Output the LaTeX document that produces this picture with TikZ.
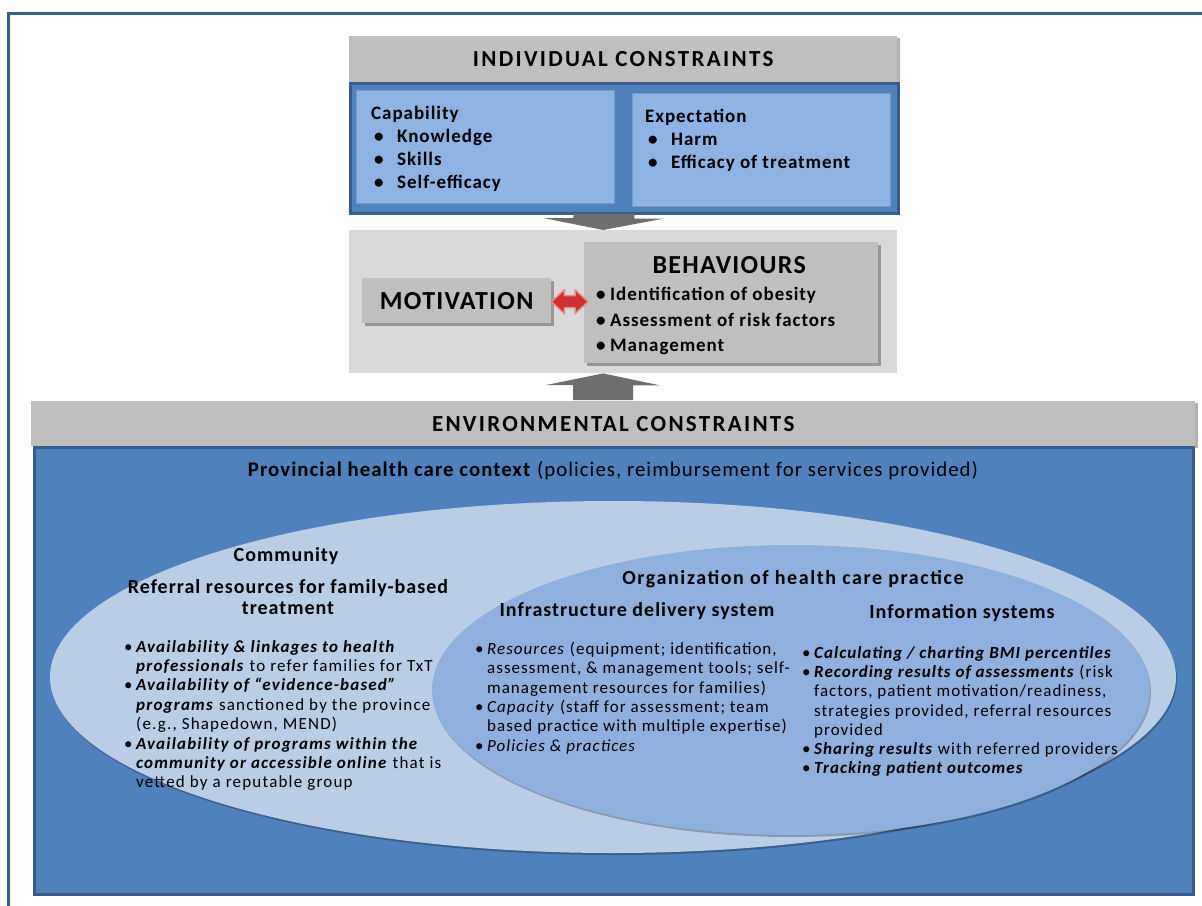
\documentclass[tikz,border=0pt]{standalone}
\usepackage{fontspec}
\setmainfont{Carlito}
% wider set copies of the same face
\newfontfamily\hdrfont[LetterSpace=10]{Carlito}
\newfontfamily\titlefont[LetterSpace=5]{Carlito}
\newfontfamily\listfont[LetterSpace=6]{Carlito}
\newfontfamily\widelist[LetterSpace=7]{Carlito}
\newfontfamily\orgfont[LetterSpace=8]{Carlito}
\usetikzlibrary{calc,shadows,shapes.geometric}

\definecolor{hdrgray}{HTML}{BFBFBF}
\definecolor{panelgray}{HTML}{D9D9D9}
\definecolor{arrowgray}{HTML}{6E6E6E}
\definecolor{boxblue}{HTML}{4F81BD}
\definecolor{edgeblue}{HTML}{385D8A}
\definecolor{lightblue}{HTML}{8DB3E2}
\definecolor{paleblue}{HTML}{B9CDE5}
\definecolor{midblue}{HTML}{8EB0DC}
\definecolor{arrowred}{HTML}{D03030}

% bullet with a fixed indent, and the matching indent for wrapped lines
\newcommand{\bul}[1][12pt]{\makebox[#1][l]{\textbullet}}
\newcommand{\cont}[1][12pt]{\hspace*{#1}}
\newcommand{\bi}[1]{\textbf{\textit{#1}}}

\begin{document}
\begin{tikzpicture}[x=1pt, y=-1pt,
    hdrbox/.style={fill=hdrgray, anchor=north west, inner sep=0pt,
      drop shadow={shadow xshift=3pt, shadow yshift=-2pt, fill=black, opacity=0.3},
      font=\hdrfont\bfseries\fontsize{23}{26}\selectfont},
    bluebox/.style={fill=boxblue, draw=edgeblue, line width=2.5pt, anchor=north west, inner sep=0pt},
    innerbox/.style={fill=lightblue, draw=boxblue!80!white, line width=1pt, anchor=north west, inner sep=0pt},
    greybox/.style={fill=hdrgray, anchor=north west, inner sep=0pt,
      drop shadow={shadow xshift=3pt, shadow yshift=-3pt, fill=black, opacity=0.3}},
    bigtitle/.style={font=\titlefont\bfseries\fontsize{26}{28}\selectfont},
    itemtext/.style={anchor=north west, align=left, inner sep=0pt, font=\titlefont\bfseries\fontsize{19}{23}\selectfont},
    listtext/.style={anchor=north west, align=left, inner sep=0pt, font=\listfont\fontsize{17}{19.3}\selectfont},
    subhead/.style={align=center, inner sep=0pt, font=\titlefont\bfseries\fontsize{20}{21}\selectfont},
    blockarrow/.style={fill=arrowgray},
    ringshadow/.style={drop shadow={shadow xshift=1pt, shadow yshift=-2pt, fill=black, opacity=0.25}}]

  \useasboundingbox (0,0) rectangle (1202,905);

  % outer frame
  \draw[edgeblue, line width=3pt] (8,13) rectangle (1220,925);

  % individual constraints
  \node[hdrbox, minimum width=548pt, minimum height=46pt] (indhead) at (349,36) {INDIVIDUAL CONSTRAINTS};
  \node[bluebox, minimum width=548pt, minimum height=130pt] (indbox) at (349,82) {};
  \node[innerbox, minimum width=258pt, minimum height=113pt] (capab) at (356,90) {};
  \node[innerbox, minimum width=258pt, minimum height=113pt] (expect) at (632,93) {};
  \node[itemtext] (capabtxt) at ($(capab.north west)+(15,16)$)
    {Capability\\ \cont[3pt]\bul[23pt]Knowledge\\ \cont[3pt]\bul[23pt]Skills\\ \cont[3pt]\bul[23pt]Self-efficacy};
  \node[itemtext] (expecttxt) at ($(expect.north west)+(13,16)$)
    {Expectation\\ \cont[3pt]\bul[23pt]Harm\\ \cont[3pt]\bul[23pt]Efficacy of treatment};

  % motivation and behaviours
  \node[fill=panelgray, anchor=north west, minimum width=548pt, minimum height=143pt] (midpanel) at (349,230) {};
  \node[greybox, minimum width=189pt, minimum height=45pt, bigtitle] (motiv) at (362,278) {MOTIVATION};
  \node[greybox, minimum width=294pt, minimum height=121pt] (behav) at (584,242) {};
  \node[bigtitle] (behavtitle) at ($(behav.north)+(-2,23)$) {BEHAVIOURS};
  \node[itemtext, font=\titlefont\bfseries\fontsize{19}{25.5}\selectfont] (behavtxt) at ($(behav.north west)+(12,45)$)
    {\bul[14pt]Identification of obesity\\ \bul[14pt]Assessment of risk factors\\ \bul[14pt]Management};

  \coordinate (ra) at ($(motiv.east)+(0,1)$);
  \coordinate (rb) at ($(behav.west |- ra)+(4,0)$);
  \fill[arrowred, draw=arrowred!55!white, line width=1.5pt, line join=round]
    (ra) -- ++(13,-12) -- ++(0,6) -- ($(rb)+(-13,-6)$) -- ++(0,-6) -- (rb)
    -- ++(-13,12) -- ++(0,-6) -- ($(ra)+(13,6)$) -- ++(0,6) -- cycle;

  % arrows between the levels
  \coordinate (dtop) at ($(indbox.south)+(-20,-1)$);
  \coordinate (dtip) at ($(midpanel.north)+(-20,0)$);
  \fill[blockarrow] ($(dtop)+(-30,0)$) -- ++(60,0) -- ++(0,5) -- ++(30,0) -- (dtip)
    -- ++(-60,-12) -- ++(30,0) -- cycle;

  \node[hdrbox, minimum width=1164pt, minimum height=45pt] (envhead) at (31,401) {ENVIRONMENTAL CONSTRAINTS};

  \coordinate (utip) at ($(midpanel.south)+(-20,0)$);
  \coordinate (ubot) at ($(envhead.north)+(-10,0)$);
  \fill[blockarrow] (utip) -- ++(57,12) -- ++(-27,0) -- ($(utip |- ubot)+(30,-1)$)
    -- ++(-60,0) -- ++(0,-15) -- ++(-27,0) -- cycle;

  % environmental constraints
  \node[bluebox, minimum width=1159pt, minimum height=447pt] (envbox) at (33,446) {};
  \node[inner sep=0pt, font=\titlefont\fontsize{20.8}{22}\selectfont] (provctx) at (613,471)
    {\textbf{Provincial health care context} (policies, reimbursement for services provided)};

  \node[ellipse, fill=paleblue, ringshadow, minimum width=1126pt, minimum height=352pt, inner sep=0pt] (community) at (613,677) {};
  \node[ellipse, fill=midblue, ringshadow, minimum width=718pt, minimum height=290pt, inner sep=0pt] (orgpractice) at (791,690) {};

  \node[subhead] (commhead) at (286,556) {Community};
  \node[subhead] (commsub) at (288,597) {Referral resources for family-based\\treatment};
  \node[listtext, font=\widelist\fontsize{17}{19.4}\selectfont] (commlist) at (124,640)
    {\bul\bi{Availability \& linkages to health}\\
     \cont\bi{professionals} to refer families for TxT\\
     \bul\bi{Availability of “evidence-based”}\\
     \cont\bi{programs} sanctioned by the province\\
     \cont(e.g., Shapedown, MEND)\\
     \bul\bi{Availability of programs within the}\\
     \cont\bi{community or accessible online} that is\\
     \cont vetted by a reputable group};

  \node[subhead, font=\orgfont\bfseries\fontsize{20}{21}\selectfont] (orghead) at (793,579) {Organization of health care practice};
  \node[subhead] (infrahead) at (637,611) {Infrastructure delivery system};
  \node[subhead] (infohead) at (962,613) {Information systems};
  \node[listtext] (infralist) at (475,642)
    {\bul\textit{Resources} (equipment; identification,\\
     \cont assessment, \& management tools; self-\\
     \cont management resources for families)\\
     \bul\textit{Capacity} (staff for assessment; team\\
     \cont based practice with multiple expertise)\\
     \bul\textit{Policies \& practices}};
  \node[listtext] (infolist) at (802,646)
    {\bul\bi{Calculating / charting BMI percentiles}\\
     \bul\bi{Recording results of assessments} (risk\\
     \cont factors, patient motivation/readiness,\\
     \cont strategies provided, referral resources\\
     \cont provided\\
     \bul\bi{Sharing results} with referred providers\\
     \bul\bi{Tracking patient outcomes}};
\end{tikzpicture}
\end{document}
